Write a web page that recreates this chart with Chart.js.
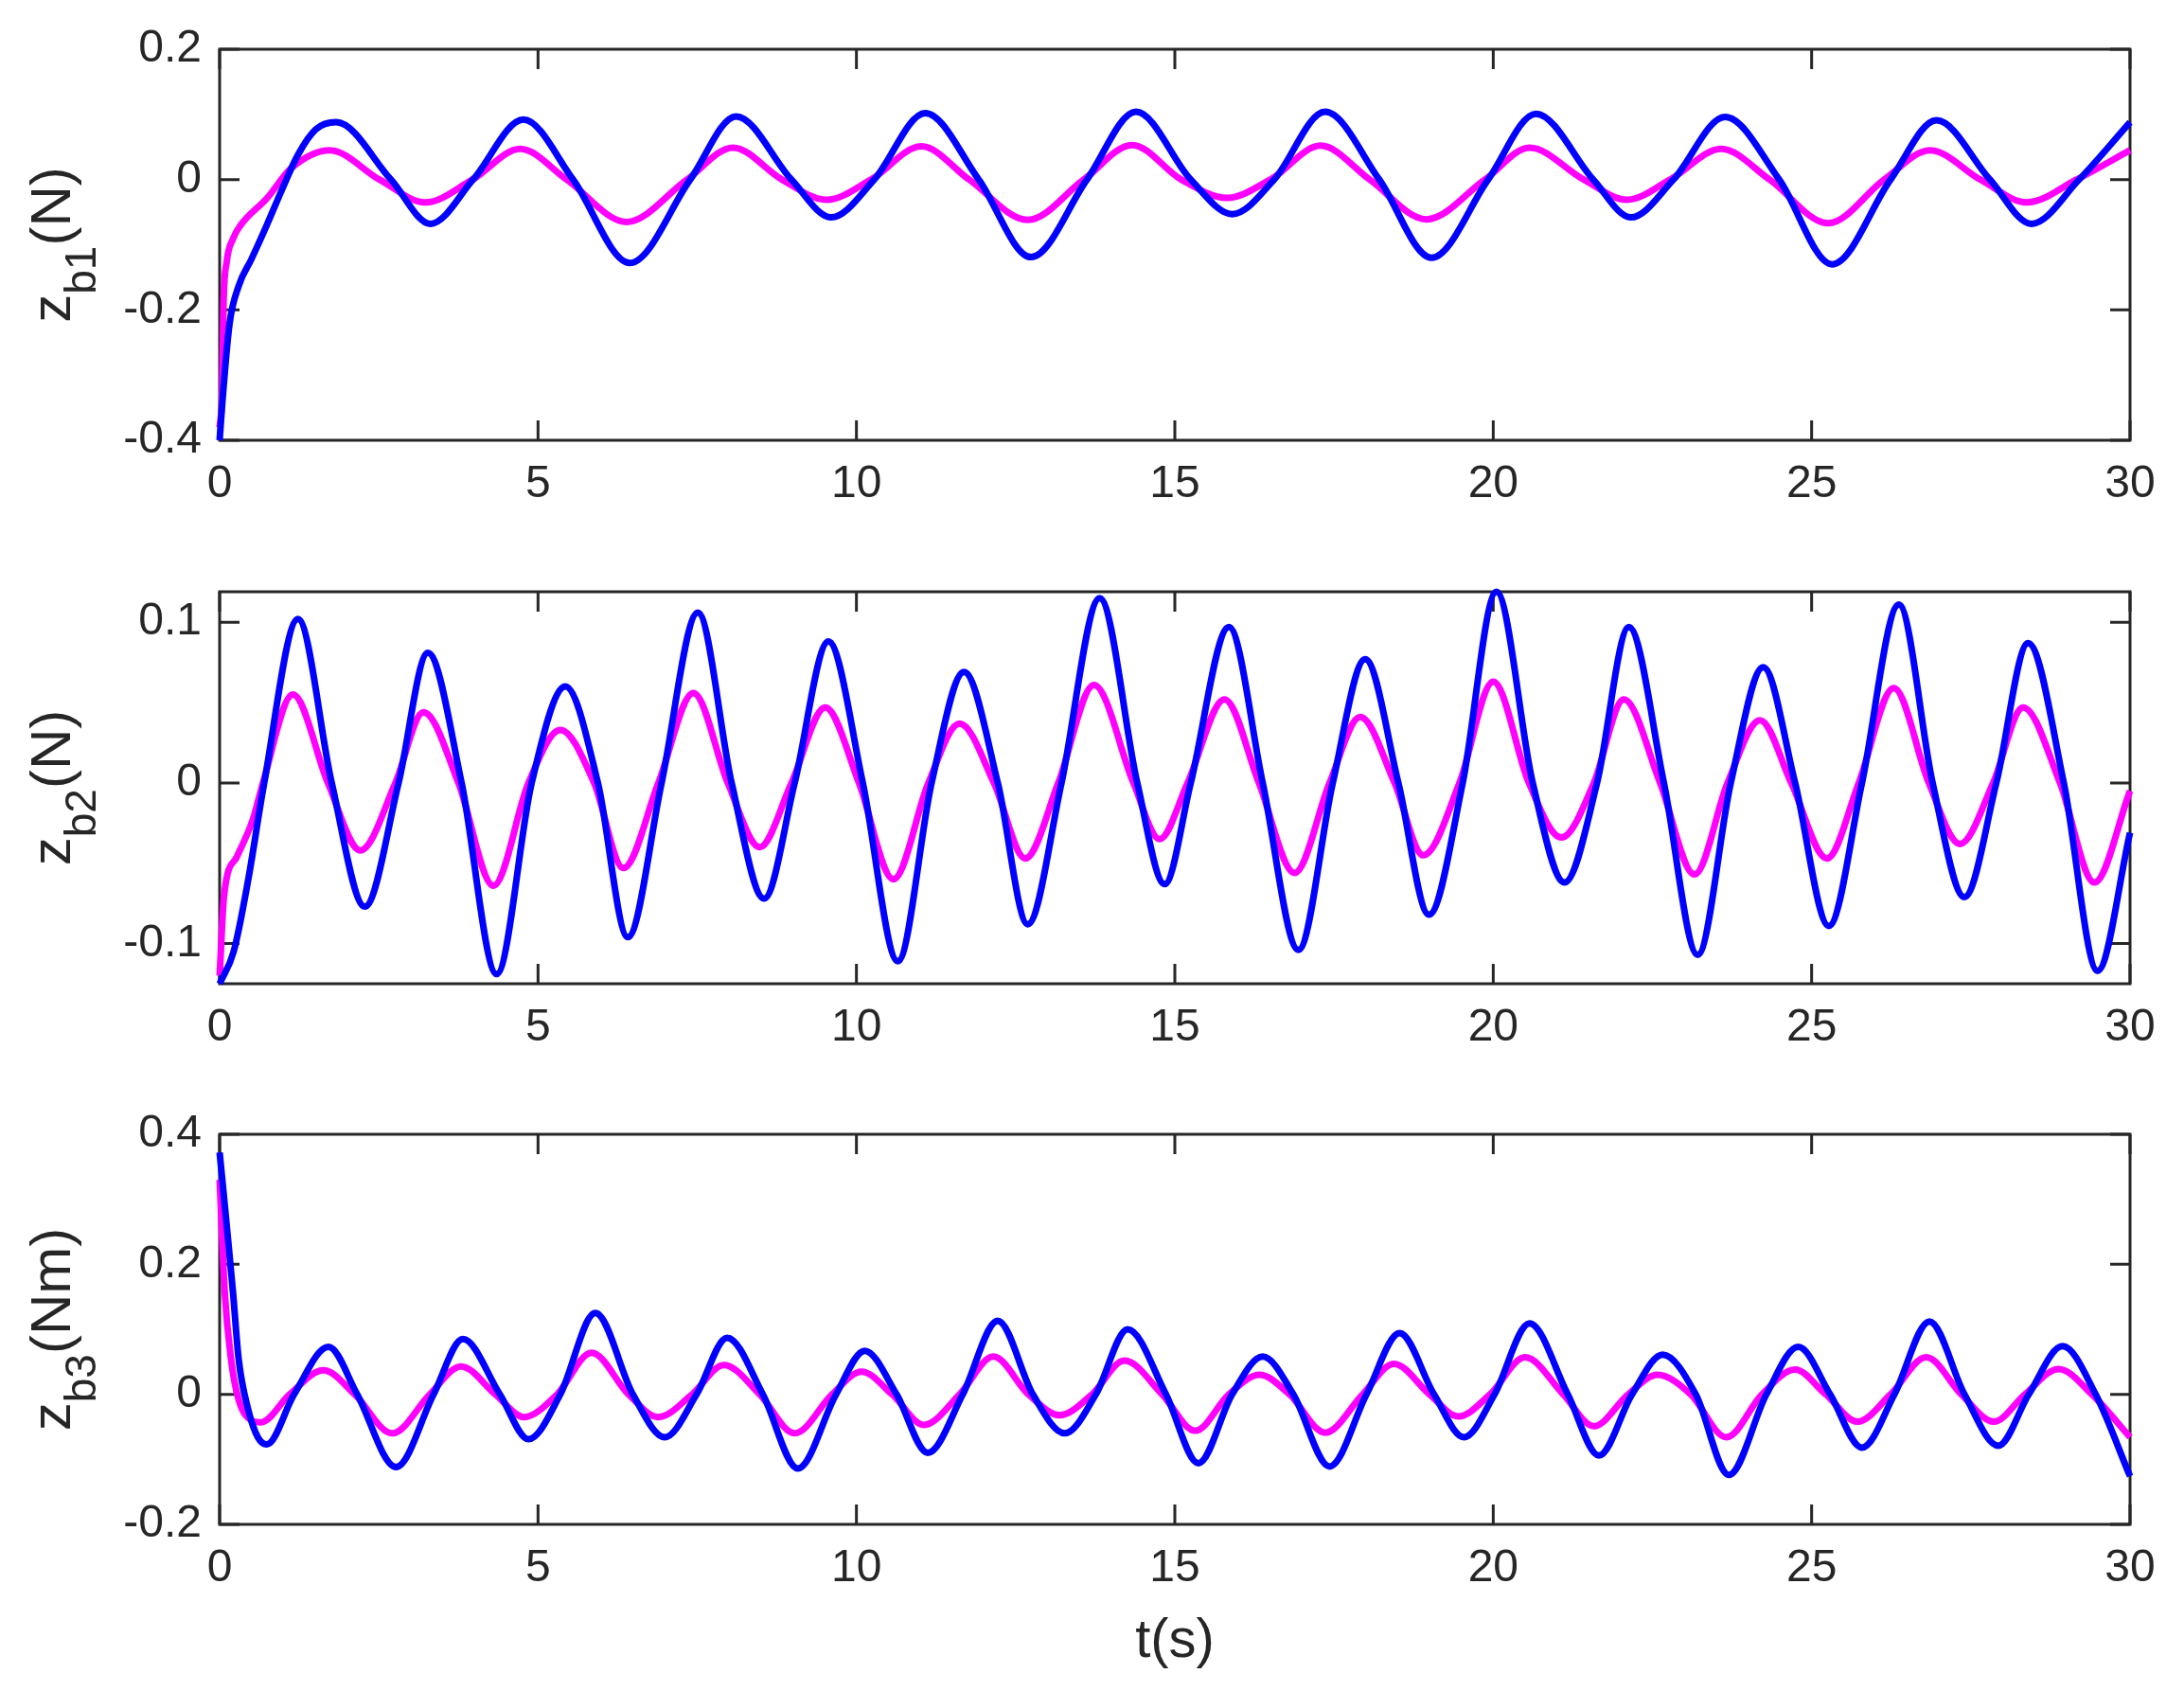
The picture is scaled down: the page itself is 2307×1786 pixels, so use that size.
<!DOCTYPE html>
<html><head><meta charset="utf-8">
<script src="https://cdn.jsdelivr.net/npm/chart.js@4.4.1/dist/chart.umd.min.js"></script>
<style>
html,body{margin:0;padding:0;background:#fff;}
body{width:2307px;height:1786px;position:relative;overflow:hidden;}
canvas{position:absolute;left:0;}
</style></head><body>
<canvas id="c1" width="2307" height="551" style="top:4px;width:2307px;height:551px"></canvas>
<canvas id="c2" width="2307" height="552" style="top:577px;width:2307px;height:552px"></canvas>
<canvas id="c3" width="2307" height="636" style="top:1150px;width:2307px;height:636px"></canvas>
<script>
// ---------- tick labels ----------
const xTicks = [0, 5, 10, 15, 20, 25, 30];
const xTickLabels = ['0', '5', '10', '15', '20', '25', '30'];
const p1YTicks = [-0.4, -0.2, 0, 0.2];
const p1YTickLabels = ['-0.4', '-0.2', '0', '0.2'];
const p2YTicks = [-0.1, 0, 0.1];
const p2YTickLabels = ['-0.1', '0', '0.1'];
const p3YTicks = [-0.2, 0, 0.2, 0.4];
const p3YTickLabels = ['-0.2', '0', '0.2', '0.4'];
const xTitle = 't(s)';

// ---------- panel 1 : z_b1 (N) ----------
const p1BlueT = [0,0.036,0.156,0.30,0.50,0.74,0.99,1.23,1.51,1.83,2.69,3.31,3.98,4.77,5.55,6.44,7.39,8.11,8.98,9.60,10.28,11.08,11.92,12.74,13.62,14.39,15.25,15.90,16.56,17.36,18.21,19.03,19.92,20.67,21.57,22.16,22.83,23.64,24.49,25.32,26.24,26.96,27.80,28.45,29.20,30];
const p1BlueZ = [-0.40,-0.35,-0.221,-0.163,-0.122,-0.070,-0.013,0.038,0.077,0.088,0,-0.068,0,0.092,0,-0.128,0,0.097,0,-0.058,0,0.102,0,-0.119,0,0.104,0,-0.053,0,0.104,0,-0.120,0,0.101,0,-0.058,0,0.096,0,-0.130,0,0.091,0,-0.068,0,0.088];
const p1MagT = [0,0.04,0.06,0.11,0.21,0.33,0.74,1.13,1.73,2.51,3.23,3.97,4.72,5.45,6.39,7.34,8.06,8.83,9.53,10.23,11.02,11.77,12.69,13.57,14.33,15.10,15.82,16.50,17.29,18.06,18.95,19.87,20.57,21.42,22.10,22.78,23.58,24.34,25.26,26.14,26.86,27.65,28.38,29.16,30];
const p1MagZ = [-0.38,-0.324,-0.195,-0.127,-0.091,-0.070,-0.029,0.018,0.045,0,-0.035,0,0.047,0,-0.065,0,0.049,0,-0.031,0,0.051,0,-0.062,0,0.053,0,-0.028,0,0.052,0,-0.061,0,0.049,0,-0.031,0,0.047,0,-0.067,0,0.045,0,-0.035,0,0.045];

// ---------- panel 2 : z_b2 (N) ----------
const p2BlueT = [0,0.22,0.45,0.70,1.23,1.76,2.28,2.81,3.27,3.80,4.35,4.90,5.43,5.94,6.41,6.94,7.51,8.04,8.55,9.03,9.56,10.10,10.65,11.18,11.69,12.22,12.69,13.22,13.82,14.41,14.84,15.25,15.85,16.38,16.94,17.48,17.99,18.51,18.99,19.52,20.05,20.62,21.12,21.63,22.13,22.68,23.21,23.73,24.24,24.74,25.27,25.79,26.37,26.90,27.40,27.90,28.40,28.96,29.49,30];
const p2BlueZ = [-0.125,-0.105,-0.06,0,0.102,0,-0.077,0,0.081,0,-0.119,0,0.060,0,-0.096,0,0.106,0,-0.072,0,0.088,0,-0.111,0,0.069,0,-0.088,0,0.115,0,-0.063,0,0.097,0,-0.104,0,0.077,0,-0.082,0,0.119,0,-0.062,0,0.097,0,-0.107,0,0.072,0,-0.089,0,0.111,0,-0.071,0,0.087,0,-0.117,-0.031];
const p2MagT = [0,0.07,0.27,0.52,0.68,1.15,1.70,2.21,2.76,3.20,3.75,4.30,4.85,5.35,5.88,6.34,6.89,7.44,7.98,8.48,8.98,9.51,10.04,10.58,11.13,11.62,12.16,12.65,13.17,13.73,14.35,14.76,15.20,15.78,16.32,16.88,17.43,17.91,18.45,18.90,19.47,20.00,20.56,21.07,21.58,22.05,22.62,23.16,23.68,24.19,24.68,25.24,25.74,26.29,26.84,27.33,27.85,28.32,28.90,29.44,30];
const p2MagZ = [-0.12,-0.07,-0.046,-0.023,0,0.055,0,-0.042,0,0.044,0,-0.064,0,0.033,0,-0.053,0,0.056,0,-0.040,0,0.047,0,-0.060,0,0.037,0,-0.047,0,0.061,0,-0.035,0,0.052,0,-0.056,0,0.041,0,-0.045,0,0.063,0,-0.034,0,0.052,0,-0.057,0,0.039,0,-0.047,0,0.059,0,-0.038,0,0.047,0,-0.062,-0.005];

// ---------- panel 3 : z_b3 (Nm) ----------
const p3BlueT = [0,0.11,0.21,0.30,0.45,0.60,0.74,1.17,1.71,2.16,2.77,3.36,3.82,4.40,4.85,5.35,5.90,6.49,6.99,7.49,7.97,8.53,9.08,9.68,10.13,10.63,11.12,11.67,12.22,12.77,13.27,13.76,14.26,14.86,15.37,15.90,16.38,16.86,17.43,18.01,18.53,19.07,19.54,20.02,20.57,21.17,21.66,22.18,22.66,23.18,23.70,24.29,24.79,25.29,25.79,26.30,26.85,27.40,27.93,28.41,28.94,29.46,30];
const p3BlueZ = [0.372,0.261,0.157,0.053,-0.024,-0.066,-0.077,0,0.073,0,-0.112,0,0.085,0,-0.069,0,0.125,0,-0.066,0,0.087,0,-0.114,0,0.067,0,-0.090,0,0.113,0,-0.060,0,0.100,0,-0.106,0,0.058,0,-0.111,0,0.094,0,-0.066,0,0.109,0,-0.094,0,0.061,0,-0.124,0,0.073,0,-0.082,0,0.112,0,-0.079,0,0.074,0,-0.126];
const p3MagT = [0,0.08,0.18,0.30,0.50,0.65,1.10,1.63,2.12,2.71,3.30,3.79,4.33,4.78,5.30,5.84,6.42,6.89,7.42,7.92,8.48,9.03,9.62,10.08,10.56,11.06,11.62,12.15,12.70,13.19,13.70,14.21,14.80,15.32,15.85,16.33,16.80,17.36,17.95,18.44,19.00,19.45,19.95,20.50,21.10,21.58,22.12,22.58,23.10,23.66,24.22,24.74,25.22,25.72,26.24,26.80,27.35,27.86,28.35,28.88,29.40,30];
const p3MagZ = [0.33,0.157,0.053,-0.009,-0.040,-0.043,0,0.037,0,-0.060,0,0.043,0,-0.035,0,0.064,0,-0.035,0,0.045,0,-0.060,0,0.035,0,-0.047,0,0.058,0,-0.032,0,0.052,0,-0.056,0,0.030,0,-0.059,0,0.047,0,-0.034,0,0.057,0,-0.049,0,0.030,0,-0.066,0,0.038,0,-0.042,0,0.057,0,-0.042,0,0.039,0,-0.066];

// ---------- styles ----------
const BLUE = '#0000ff';
const MAGENTA = '#ff00ff';
const AXIS = '#262626';
const FONT = "'Liberation Sans', Arial, Helvetica, sans-serif";
const TICK_SIZE = 48;
const TITLE_SIZE = 60;
const SUB_SIZE = 46;
const XTITLE_SIZE = 58;
const LINE_W = 7;

const toPts = (ts, zs) => ts.map((t, i) => ({ x: t, y: zs[i] }));

const boxPlugin = {
  id: 'matlabBox',
  beforeDatasetsDraw(chart) {
    const { ctx, chartArea: a, scales: { x, y } } = chart;
    ctx.save();
    ctx.strokeStyle = AXIS;
    ctx.lineWidth = 3;
    ctx.lineCap = 'butt';
    ctx.strokeRect(a.left, a.top, a.right - a.left, a.bottom - a.top);
    const L = 21;
    ctx.beginPath();
    x.ticks.forEach(t => {
      const px = x.getPixelForValue(t.value);
      ctx.moveTo(px, a.bottom); ctx.lineTo(px, a.bottom - L);
      ctx.moveTo(px, a.top); ctx.lineTo(px, a.top + L);
    });
    y.ticks.forEach(t => {
      const py = y.getPixelForValue(t.value);
      ctx.moveTo(a.left, py); ctx.lineTo(a.left + L, py);
      ctx.moveTo(a.right, py); ctx.lineTo(a.right - L, py);
    });
    ctx.stroke();
    ctx.restore();
  },
  afterDraw(chart, args, opts) {
    if (!opts || !opts.main) return;
    const { ctx, chartArea: a } = chart;
    const cy = (a.top + a.bottom) / 2;
    ctx.save();
    ctx.fillStyle = AXIS;
    ctx.textBaseline = 'alphabetic';
    ctx.textAlign = 'left';
    const mainFont = TITLE_SIZE + 'px ' + FONT;
    const subFont = SUB_SIZE + 'px ' + FONT;
    ctx.font = mainFont; const w1 = ctx.measureText(opts.main).width; const w3 = ctx.measureText(opts.rest).width;
    ctx.font = subFont; const w2 = ctx.measureText(opts.sub).width;
    const total = w1 + w2 + w3;
    ctx.translate(a.left - 158, cy);
    ctx.rotate(-Math.PI / 2);
    let xx = -total / 2;
    ctx.font = mainFont; ctx.fillText(opts.main, xx, 0); xx += w1;
    ctx.font = subFont; ctx.fillText(opts.sub, xx, 27); xx += w2;
    ctx.font = mainFont; ctx.fillText(opts.rest, xx, 0);
    ctx.restore();
  }
};

function makeChart(id, cfg) {
  const xScale = {
    type: 'linear', min: 0, max: 30,
    afterBuildTicks: s => { s.ticks = xTicks.map(v => ({ value: v })); },
    ticks: {
      callback: (v, i) => xTickLabels[i],
      font: { family: FONT, size: TICK_SIZE }, color: AXIS,
      padding: 18, maxRotation: 0, autoSkip: false
    },
    grid: { display: false, drawTicks: false },
    border: { display: false },
    afterFit: s => { s.height = cfg.xh; }
  };
  if (cfg.xTitle) {
    xScale.title = {
      display: true, text: cfg.xTitle, color: AXIS,
      font: { family: FONT, size: XTITLE_SIZE },
      padding: { top: 0, bottom: 17 }
    };
  }
  return new Chart(document.getElementById(id), {
    type: 'line',
    data: {
      datasets: [
        { data: toPts(cfg.bt, cfg.bz), borderColor: BLUE, borderWidth: LINE_W, pointRadius: 0,
          cubicInterpolationMode: 'monotone', fill: false, clip: 4 },
        { data: toPts(cfg.mt, cfg.mz), borderColor: MAGENTA, borderWidth: LINE_W, pointRadius: 0,
          cubicInterpolationMode: 'monotone', fill: false, clip: 4 }
      ]
    },
    options: {
      responsive: false, animation: false, events: [],
      layout: { padding: { top: 48, left: 0, right: 57, bottom: 0 } },
      plugins: {
        legend: { display: false }, tooltip: { enabled: false },
        matlabBox: { main: 'z', sub: cfg.sub, rest: cfg.unit }
      },
      scales: {
        x: xScale,
        y: {
          type: 'linear', min: cfg.ymin, max: cfg.ymax,
          afterBuildTicks: s => { s.ticks = cfg.yt.map(v => ({ value: v })); },
          ticks: {
            callback: (v, i) => cfg.yl[i],
            font: { family: FONT, size: TICK_SIZE }, color: AXIS, padding: 19, autoSkip: false
          },
          grid: { display: false, drawTicks: false },
          border: { display: false },
          afterFit: s => { s.width = 232; }
        }
      }
    },
    plugins: [boxPlugin]
  });
}

makeChart('c1', { bt: p1BlueT, bz: p1BlueZ, mt: p1MagT, mz: p1MagZ, ymin: -0.4, ymax: 0.2,
  yt: p1YTicks, yl: p1YTickLabels, sub: 'b1', unit: '(N)', xh: 90 });
makeChart('c2', { bt: p2BlueT, bz: p2BlueZ, mt: p2MagT, mz: p2MagZ, ymin: -0.125, ymax: 0.119,
  yt: p2YTicks, yl: p2YTickLabels, sub: 'b2', unit: '(N)', xh: 90 });
makeChart('c3', { bt: p3BlueT, bz: p3BlueZ, mt: p3MagT, mz: p3MagZ, ymin: -0.2, ymax: 0.4,
  yt: p3YTicks, yl: p3YTickLabels, sub: 'b3', unit: '(Nm)', xh: 176, xTitle: xTitle });
</script>
</body></html>
